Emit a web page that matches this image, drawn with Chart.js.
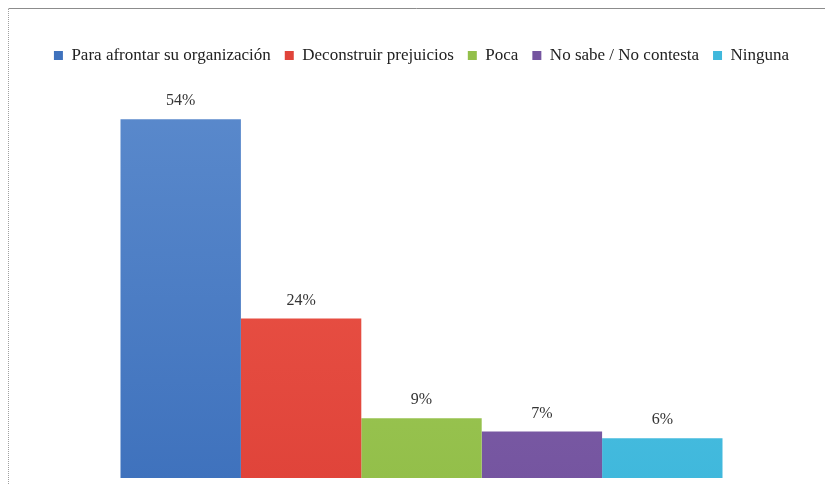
<!DOCTYPE html>
<html>
<head>
<meta charset="utf-8">
<script src="https://cdn.jsdelivr.net/npm/chart.js@4.4.0/dist/chart.umd.min.js"></script>
<style>
html,body{margin:0;padding:0;background:#fff}
#wrap{width:825px;height:484px;position:relative}
</style>
</head>
<body>
<div id="wrap"><canvas id="c"></canvas></div>
<script>
'use strict';

const categories=['Para afrontar su organización','Deconstruir prejuicios','Poca','No sabe / No contesta','Ninguna'];
const values=[54,24,9,7,6];
const colorsTop=['#5c8bcd','#ee5a4c','#a9cf62','#8a6cb3','#5ccbea'];
const colorsBot=['#3f72bd','#e0443a','#93bf4a','#7555a0','#40b8dc'];

const frame={
  id:'frame',
  beforeDraw(ch){
    const c=ch.ctx; c.save();
    c.strokeStyle='#a0a0a0'; c.lineWidth=1; c.setLineDash([1,1]);
    c.beginPath(); c.moveTo(8.5,484); c.lineTo(8.5,8.5); c.stroke();
    c.setLineDash([]); c.strokeStyle='#8c8c8c';
    c.beginPath(); c.moveTo(8.5,8.5); c.lineTo(825,8.5); c.stroke();
    c.restore();
  }
};

const valLabels={
  id:'valLabels',
  afterDatasetsDraw(ch){
    const c=ch.ctx; c.save();
    c.font='16px "Liberation Serif", serif'; c.fillStyle='#333';
    c.textAlign='center'; c.textBaseline='bottom';
    ch.data.datasets.forEach((ds,i)=>{
      const el=ch.getDatasetMeta(i).data[0];
      c.fillText(ds.data[0]+'%',el.x,el.y-10);
    });
    c.restore();
  }
};

function grad(i){
  return ctx=>{
    const ch=ctx.chart, a=ch.chartArea;
    if(!a) return colorsBot[i];
    const g=ch.ctx.createLinearGradient(0,a.top,0,a.bottom);
    g.addColorStop(0,colorsTop[i]); g.addColorStop(1,colorsBot[i]);
    return g;
  };
}

new Chart(document.getElementById('c'),{
  type:'bar',
  data:{
    labels:[''],
    datasets:categories.map((cat,i)=>({label:cat,data:[values[i]],backgroundColor:grad(i),borderWidth:0}))
  },
  options:{
    responsive:true,maintainAspectRatio:false,animation:false,
    datasets:{bar:{categoryPercentage:602/807,barPercentage:1}},
    layout:{padding:{left:18,right:0,top:33,bottom:6}},
    plugins:{
      legend:{position:'top',labels:{
        color:'#222',font:{family:'"Liberation Serif", serif',size:17},
        boxWidth:9,boxHeight:9,padding:14,
        generateLabels:ch=>ch.data.datasets.map((ds,i)=>({text:ds.label,fillStyle:colorsBot[i],strokeStyle:colorsBot[i],lineWidth:0,datasetIndex:i,fontColor:'#222'}))
      }},
      tooltip:{enabled:false}
    },
    scales:{
      x:{display:false},
      y:{display:false,min:0,max:60.8}
    }
  },
  plugins:[frame,valLabels]
});
</script>
</body>
</html>
